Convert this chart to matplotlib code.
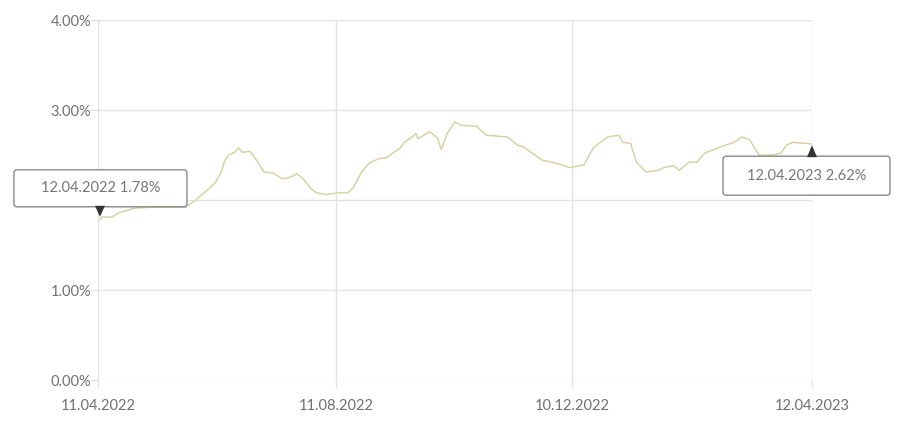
import pandas as pd
import matplotlib
matplotlib.use("Agg")
import matplotlib.pyplot as plt
import matplotlib.dates as mdates
from matplotlib.patches import FancyBboxPatch, Polygon
from matplotlib.transforms import IdentityTransform

# start date and day offsets of the traced points
start_date = "2022-04-11"
day_offsets = [1, 2, 7, 11, 19, 27, 45, 50, 55, 60, 63, 65, 67, 70, 72, 74, 78,
               82, 85, 90, 94, 97, 102, 105, 109, 112, 117, 123, 128, 131, 135,
               139, 144, 148, 151, 155, 157, 161, 163, 164, 170, 174, 176, 179,
               183, 186, 194, 199, 210, 215, 218, 228, 233, 242, 249, 254, 257,
               261, 267, 269, 273, 276, 281, 287, 290, 295, 298, 303, 307, 311,
               319, 326, 330, 334, 337, 339, 346, 350, 353, 356, 363, 366]
rates = [1.78, 1.81, 1.81, 1.86, 1.91, 1.92, 1.92, 2.00, 2.09, 2.19, 2.30, 2.44,
         2.50, 2.53, 2.58, 2.53, 2.54, 2.42, 2.31, 2.30, 2.24, 2.24, 2.29, 2.24,
         2.13, 2.08, 2.06, 2.08, 2.08, 2.14, 2.31, 2.41, 2.46, 2.47, 2.52, 2.58,
         2.64, 2.70, 2.74, 2.68, 2.76, 2.69, 2.56, 2.74, 2.87, 2.83, 2.82, 2.72,
         2.70, 2.61, 2.59, 2.44, 2.42, 2.36, 2.39, 2.58, 2.63, 2.70, 2.72, 2.64,
         2.63, 2.42, 2.31, 2.33, 2.36, 2.38, 2.33, 2.42, 2.42, 2.52, 2.59, 2.64,
         2.70, 2.67, 2.56, 2.50, 2.50, 2.52, 2.61, 2.64, 2.63, 2.62]

x_ticks = ["2022-04-11", "2022-08-11", "2022-12-10", "2023-04-12"]
x_tick_labels = ["11.04.2022", "11.08.2022", "10.12.2022", "12.04.2023"]
y_ticks = [0, 1, 2, 3, 4]
y_tick_labels = ["0.00%", "1.00%", "2.00%", "3.00%", "4.00%"]

first_label = "12.04.2022 1.78%"
last_label = "12.04.2023 2.62%"


def plot_rate():
    plt.rcParams["font.family"] = ["Lato", "DejaVu Sans"]
    W, H = 900, 423
    fig = plt.figure(figsize=(W / 100, H / 100), dpi=100)
    ax = fig.add_axes([98 / W, 1 - 380 / H, (812 - 98) / W, (380 - 20) / H])

    dates = pd.to_datetime(start_date) + pd.to_timedelta(day_offsets, unit="D")
    xnum = mdates.date2num(dates.to_pydatetime())
    ax.plot(xnum, rates, color="#d8d2a6", lw=1.1, zorder=3)
    ax.xaxis_date()

    tick_num = mdates.date2num(pd.to_datetime(x_ticks).to_pydatetime())
    ax.set_xlim(tick_num[0], tick_num[-1])
    ax.set_ylim(0, 4)
    ax.set_xticks(tick_num)
    ax.set_xticklabels(x_tick_labels)
    ax.set_yticks(y_ticks)
    ax.set_yticklabels(y_tick_labels)

    grid_c = "#e2e2e2"
    ax.grid(True, color=grid_c, lw=1.0)
    for s in ax.spines.values():
        s.set_visible(False)
    ax.tick_params(axis="both", colors=grid_c, labelcolor="#707070",
                   labelsize=10.5, length=6, width=1.0)
    ax.tick_params(axis="x", pad=8)
    ax.tick_params(axis="y", pad=-1)

    # tooltips at first and last points
    def tooltip(i, label, above):
        px, py = ax.transData.transform((xnum[i], rates[i]))
        if above:
            y0, y1 = py + 13, py + 50
            tri = [(px - 5, y0 + 1), (px + 5, y0 + 1), (px, py + 3)]
            x0, x1 = px - 86, px + 87
        else:
            y0, y1 = py - 51, py - 12
            tri = [(px - 5, y1 - 1), (px + 5, y1 - 1), (px, py - 1)]
            x0, x1 = px - 89, px + 78
        box = FancyBboxPatch((x0, y0), x1 - x0, y1 - y0,
                             boxstyle="round,pad=0,rounding_size=3",
                             fc="white", ec="#8a8a8a", lw=1.0,
                             transform=IdentityTransform(), zorder=5)
        fig.patches.append(box)
        box.set_figure(fig)
        fig.text((x0 + x1) / 2 / W, (y0 + y1) / 2 / H, label,
                 ha="center", va="center", color="#777777", fontsize=10.5,
                 zorder=6)
        t = Polygon(tri, closed=True, fc="#333333", ec="none",
                    transform=IdentityTransform(), zorder=7)
        fig.patches.append(t)
        t.set_figure(fig)

    tooltip(0, first_label, above=True)
    tooltip(len(rates) - 1, last_label, above=False)

    fig.savefig("out.png", dpi=100)


if __name__ == "__main__":
    plot_rate()
